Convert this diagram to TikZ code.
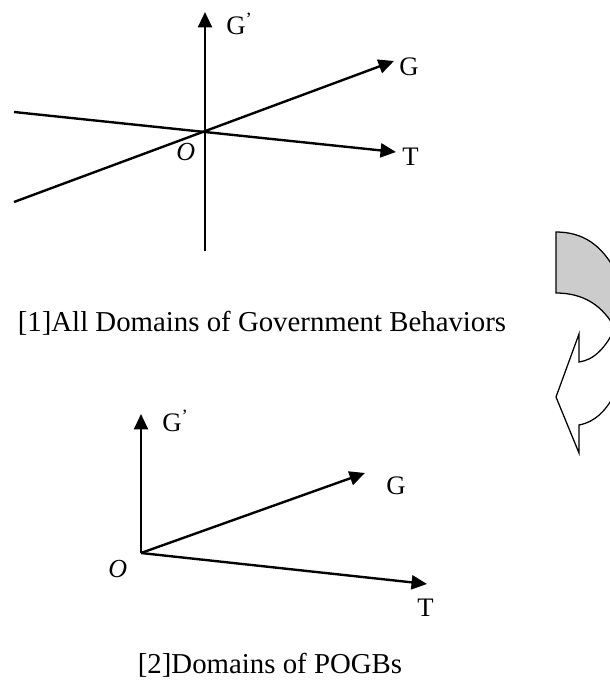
\documentclass[tikz,border=0pt]{standalone}
\usepackage{fontspec}
\setmainfont{Liberation Serif}
\usetikzlibrary{arrows.meta, positioning}

\begin{document}
\begin{tikzpicture}[
    x=0.025cm, y=-0.025cm,
    axis/.style={line width=1.7pt, -{Triangle[length=11pt, width=10pt]}},
    lbl/.style={font=\fontsize{19}{22}\selectfont, inner sep=0pt, anchor=base west},
    olbl/.style={lbl, font=\fontsize{18.5}{22}\selectfont\itshape},
    caption/.style={font=\fontsize{20.5}{24}\selectfont, inner sep=0pt, anchor=base}
]
    \useasboundingbox (0,0) rectangle (610,680);
    \clip (0,0) rectangle (610,680);

    % [1] all domains
    \coordinate (o1) at (205,131);
    \coordinate (gpbot) at (205,251);
    \coordinate (gptop) at (205,12);
    \coordinate (gstart) at (14,202);
    \coordinate (gend) at (394,61);
    \coordinate (tstart) at (14,112);
    \coordinate (tend) at (396,152);

    \draw[axis] (gpbot) -- (gptop);
    \draw[axis] (gstart) -- (gend);
    \draw[axis] (tstart) -- (tend);

    \node[lbl] (gp1) at (226,34) {G\textsuperscript{’}};
    \node[lbl] (g1) at (399,75) {G};
    \node[lbl] (t1) at (402,165) {T};
    \node[olbl] (lo1) at (176,160) {O};

    \node[caption] (cap1) at (262,331) {[1]All Domains of Government Behaviors};

    % [2] domains of POGBs
    \coordinate (o2) at (141,553);
    \coordinate (gptip) at (141,414);
    \coordinate (gtip) at (365,473);
    \coordinate (ttip) at (427,584);

    \draw[axis] (o2) -- (gptip);
    \draw[axis] (o2) -- (gtip);
    \draw[axis] (o2) -- (ttip);

    \node[lbl] (gp2) at (162,431) {G\textsuperscript{’}};
    \node[lbl] (g2) at (386,494) {G};
    \node[lbl] (t2) at (417,616) {T};
    \node[olbl] (lo2) at (108,577) {O};

    \node[caption] (cap2) at (270,673) {[2]Domains of POGBs};

    % curved arrow
    \draw[line width=0.9pt, fill=gray!40]
        (556,232) -- (556,293)
        .. controls (583,293) and (603,305) .. (616,330)
        -- (616,272)
        .. controls (602,245) and (583,232) .. (556,232) -- cycle;
    \draw[line width=0.9pt, fill=white, line join=miter]
        (616,326) .. controls (606,348) and (594,360) .. (579,362)
        -- (579,334) -- (556,397) -- (579,453) -- (579,425)
        .. controls (595,422) and (606,411) .. (616,392) -- cycle;
\end{tikzpicture}
\end{document}
